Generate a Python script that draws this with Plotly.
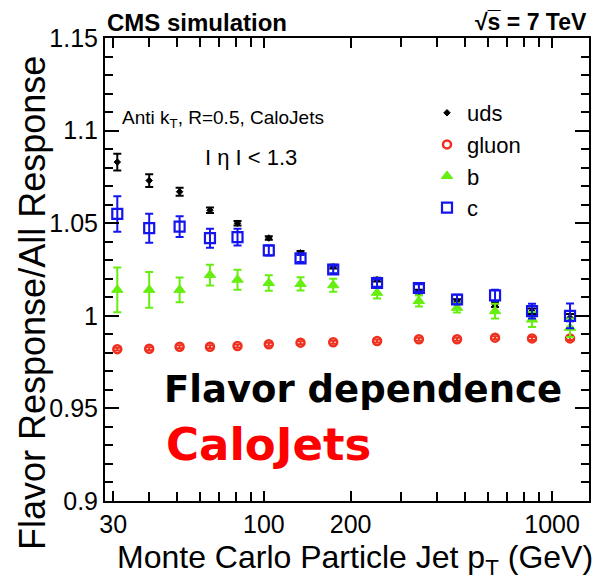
import math
import plotly.graph_objects as go

# Jet pT bin centres (GeV)
pt = [31, 40, 51, 65, 81, 104, 134, 174, 247, 345, 468, 634, 852, 1154]

# Flavour response / inclusive response, with statistical errors
uds = [1.083, 1.073, 1.067, 1.057, 1.050, 1.042, 1.034, 1.0265, 1.0195, 1.013, 1.008, 1.006, 1.0025, 0.999]
uds_err = [0.0045, 0.0034, 0.0022, 0.0015, 0.0012, 0.001, 0.001, 0.001, 0.001, 0.001, 0.001, 0.0012, 0.0015, 0.002]

gluon = [0.982, 0.9822, 0.9833, 0.9833, 0.9837, 0.9846, 0.9855, 0.9857, 0.9864, 0.9873, 0.9873, 0.9882, 0.9878, 0.9878]
gluon_err = [0.0008] * 14

b = [1.014, 1.014, 1.014, 1.022, 1.0195, 1.0177, 1.0172, 1.0165, 1.0124, 1.008, 1.0043, 1.0025, 0.998, 0.9935]
b_err = [0.0121, 0.0097, 0.0067, 0.0056, 0.0054, 0.0042, 0.0036, 0.0035, 0.003, 0.003, 0.0025, 0.004, 0.004, 0.005]

c = [1.055, 1.0473, 1.0482, 1.0419, 1.0425, 1.0353, 1.031, 1.025, 1.0177, 1.015, 1.0088, 1.011, 1.0025, 1.000]
c_err = [0.0096, 0.0078, 0.0056, 0.0051, 0.0045, 0.0027, 0.002, 0.002, 0.002, 0.002, 0.0025, 0.003, 0.004, 0.0067]

x_labels = [30, 100, 200, 1000]
x_minor = [40, 50, 60, 70, 80, 90, 300, 400, 500, 600, 700, 800, 900]

W, H = 604, 583
L, R, T, B = 105, 15, 38, 82
FONT = "Liberation Sans, Arial, Helvetica, sans-serif"
BOLD_FONT = "DejaVu Sans, sans-serif"

fig = go.Figure()


def add_series(name, y, err, symbol, size, color, lw):
    fig.add_trace(go.Scatter(
        x=pt, y=y, mode="markers", name=name,
        marker=dict(symbol=symbol, size=size, color=color,
                    line=dict(color=color, width=lw)),
        error_y=dict(type="data", array=err, color=color, thickness=2, width=4),
    ))


add_series("uds", uds, uds_err, "diamond", 5, "black", 1)
add_series("gluon", gluon, gluon_err, "circle-open", 8, "#f0301e", 2.5)
add_series("b", b, b_err, "triangle-up", 10, "#66ee11", 1)
add_series("c", c, c_err, "square-open", 10, "#1414f0", 2.2)

xrange = [math.log10(28.1), math.log10(1343)]

fig.update_layout(
    template="none",
    width=W, height=H,
    margin=dict(l=L, r=R, t=T, b=B),
    paper_bgcolor="white", plot_bgcolor="white",
    font=dict(family=FONT, color="black"),
    showlegend=True,
    legend=dict(x=(427 - L) / 484, y=(501 - 92) / 463, xanchor="left", yanchor="top",
                font=dict(size=22, family=FONT), bgcolor="rgba(0,0,0,0)",
                tracegroupgap=0, itemwidth=30),
    xaxis=dict(
        type="log", range=xrange,
        tickmode="array", tickvals=x_labels, ticktext=[str(v) for v in x_labels],
        ticks="inside", ticklen=10, tickwidth=2, tickcolor="black",
        showline=True, linecolor="black", linewidth=2, mirror="allticks",
        showgrid=False, zeroline=False, layer="above traces",
        tickfont=dict(size=25),
        minor=dict(tickmode="array", tickvals=x_minor, ticks="inside", ticklen=9,
                   tickwidth=2, tickcolor="black", showgrid=False),
    ),
    yaxis=dict(
        range=[0.9, 1.15], tickmode="linear", tick0=0.9, dtick=0.05,
        ticks="inside", ticklen=14, tickwidth=2, tickcolor="black",
        showline=True, linecolor="black", linewidth=2, mirror="allticks",
        showgrid=False, zeroline=False, layer="above traces",
        tickfont=dict(size=25),
        minor=dict(dtick=0.01, ticks="inside", ticklen=8, tickwidth=2,
                   tickcolor="black", showgrid=False),
    ),
)


def px_x(p):
    return (p - L) / (W - L - R)


def px_y(p):
    return (H - B - p) / (H - T - B)


annotations = [
    dict(text="<b>CMS simulation</b>", x=px_x(105), y=px_y(22), xanchor="left",
         yanchor="middle", font=dict(size=24)),
    dict(text="<b>\u221as\u0305 = 7 TeV</b>", x=1.0, y=px_y(22), xanchor="right",
         yanchor="middle", font=dict(size=23)),
    dict(text="Anti k<sub>T</sub>, R=0.5, CaloJets", x=px_x(120), y=px_y(119),
         xanchor="left", yanchor="middle", font=dict(size=19)),
    dict(text="I \u03b7 I < 1.3", x=px_x(203), y=px_y(157), xanchor="left",
         yanchor="middle", font=dict(size=22)),
    dict(text="<b>Flavor dependence</b>", x=px_x(162), y=px_y(389), xanchor="left",
         yanchor="middle", font=dict(size=37, family=BOLD_FONT)),
    dict(text="<b>CaloJets</b>", x=px_x(164), y=px_y(444), xanchor="left",
         yanchor="middle", font=dict(size=45, color="#ff0000", family=BOLD_FONT)),
    dict(text="Monte Carlo Particle Jet p<sub>T</sub> (GeV)", x=px_x(355), y=px_y(559),
         xanchor="center", yanchor="middle", font=dict(size=32)),
    dict(text="Flavor Response/All Response", x=px_x(33), y=px_y(303),
         xanchor="center", yanchor="middle", textangle=-90, font=dict(size=36)),
]
for a in annotations:
    a.update(xref="paper", yref="paper", showarrow=False)
fig.update_layout(annotations=annotations)

fig.write_html("out.html")
